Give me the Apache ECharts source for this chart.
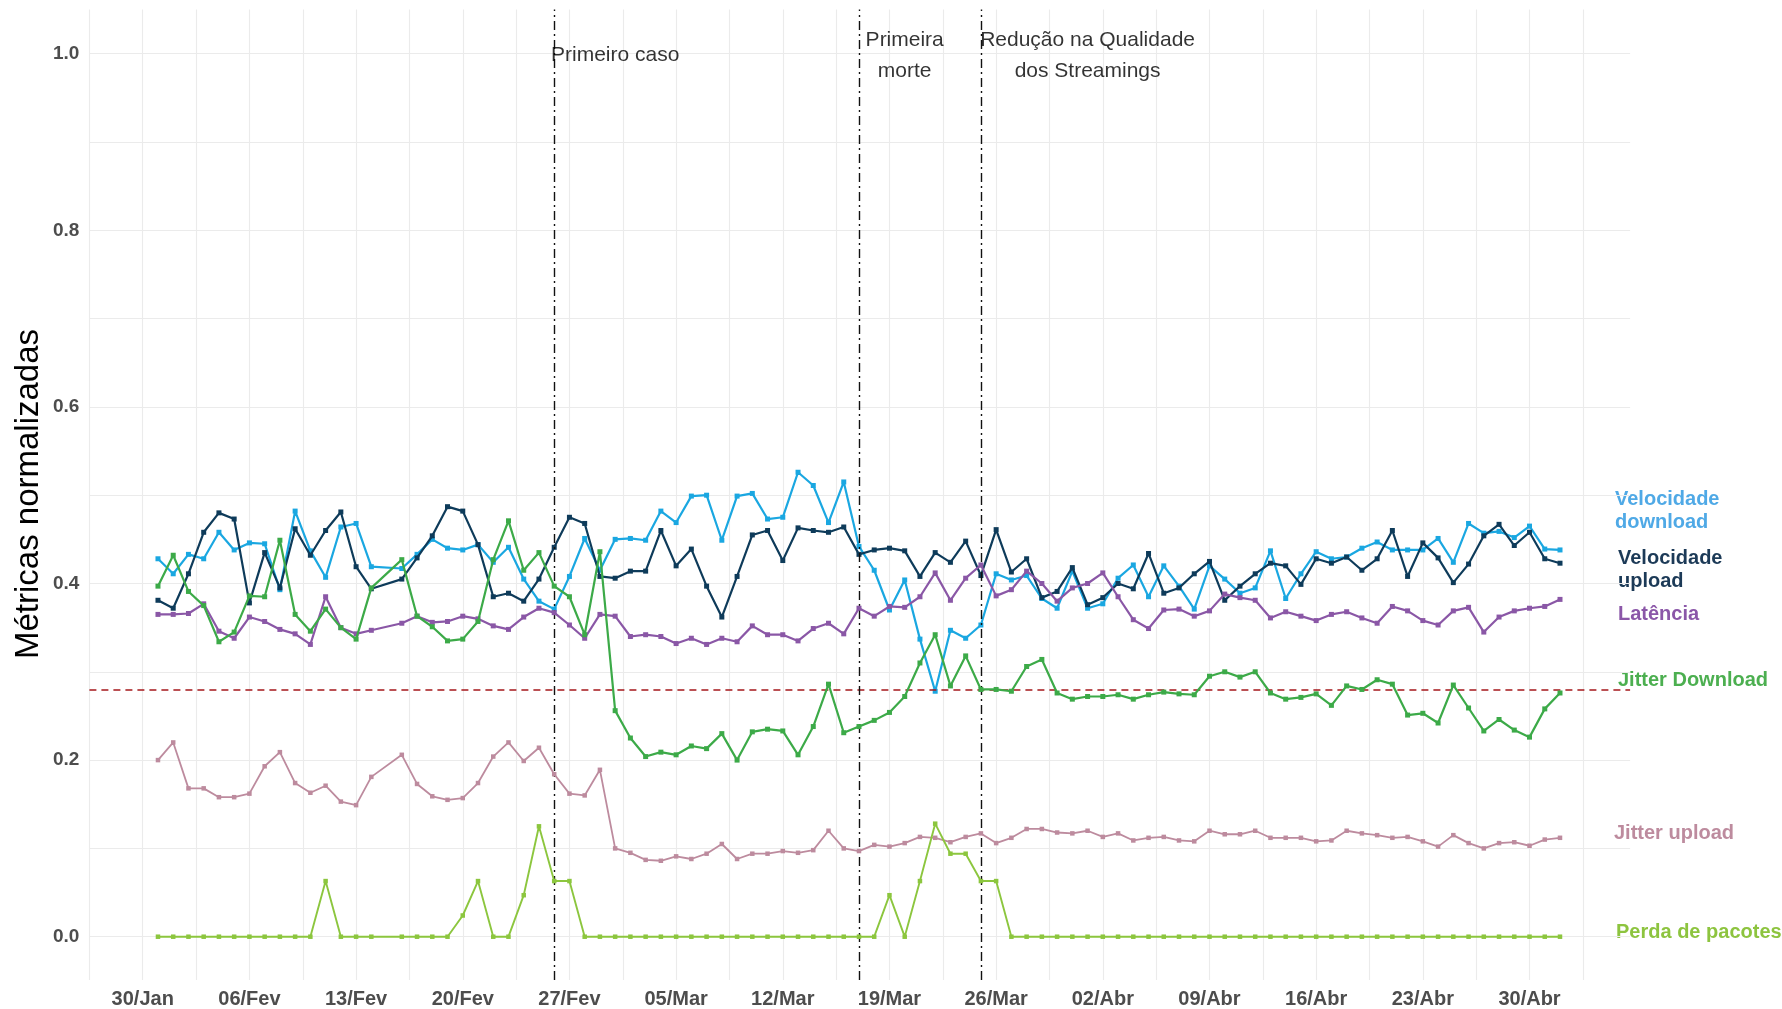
<!DOCTYPE html>
<html><head><meta charset="utf-8">
<script src="https://cdn.jsdelivr.net/npm/echarts@6/dist/echarts.min.js"></script>
<style>html,body{margin:0;padding:0;background:#fff}#c{width:1782px;height:1009px}</style>
</head><body><div id="c"></div><script>
// ---- data ----
const dates = [
 '2020-01-31',
 '2020-02-01','2020-02-02','2020-02-03','2020-02-04','2020-02-05','2020-02-06','2020-02-07','2020-02-08','2020-02-09','2020-02-10','2020-02-11','2020-02-12','2020-02-13','2020-02-14',
 '2020-02-16','2020-02-17','2020-02-18','2020-02-19','2020-02-20','2020-02-21','2020-02-22','2020-02-23','2020-02-24','2020-02-25','2020-02-26','2020-02-27','2020-02-28','2020-02-29',
 '2020-03-01','2020-03-02','2020-03-03','2020-03-04','2020-03-05','2020-03-06','2020-03-07','2020-03-08','2020-03-09','2020-03-10',
 '2020-03-11','2020-03-12','2020-03-13','2020-03-14','2020-03-15','2020-03-16','2020-03-17','2020-03-18','2020-03-19','2020-03-20',
 '2020-03-21','2020-03-22','2020-03-23','2020-03-24','2020-03-25','2020-03-26','2020-03-27','2020-03-28','2020-03-29','2020-03-30','2020-03-31',
 '2020-04-01','2020-04-02','2020-04-03','2020-04-04','2020-04-05','2020-04-06','2020-04-07','2020-04-08','2020-04-09','2020-04-10',
 '2020-04-11','2020-04-12','2020-04-13','2020-04-14','2020-04-15','2020-04-16','2020-04-17','2020-04-18','2020-04-19','2020-04-20',
 '2020-04-21','2020-04-22','2020-04-23','2020-04-24','2020-04-25','2020-04-26','2020-04-27','2020-04-28','2020-04-29','2020-04-30',
 '2020-05-01','2020-05-02'
];
const velocidadeDownload = [
 .428,.411,.433,.428,.458,.438,.446,.445,.393,.482,.437,.407,.464,.468,.419,
 .417,.433,.450,.440,.438,.444,.424,.441,.405,.380,.371,.408,.451,.415,
 .450,.451,.449,.482,.469,.499,.500,.449,.499,.502,.473,.475,.526,.511,.469,.515,.442,.415,.370,.404,
 .337,.278,.347,.338,.353,.411,.404,.409,.383,.372,.414,
 .372,.377,.406,.421,.385,.420,.397,.371,.420,.405,.389,.395,.437,.383,.411,.436,.428,.430,.440,.447,
 .438,.438,.438,.451,.424,.468,.457,.459,.452,.465,
 .439,.438
];
const velocidadeUpload = [
 .381,.372,.411,.458,.480,.473,.378,.435,.395,.462,.432,.460,.481,.419,.394,
 .405,.429,.454,.487,.482,.444,.385,.389,.380,.405,.441,.475,.468,.408,
 .406,.414,.414,.460,.420,.439,.397,.362,.408,.455,.460,.426,.463,.460,.458,.464,.433,.438,.440,.437,
 .408,.435,.424,.448,.409,.461,.413,.428,.384,.391,.418,
 .376,.384,.400,.394,.434,.389,.395,.411,.425,.381,.397,.411,.423,.420,.399,.428,.423,.430,.415,.428,
 .460,.408,.446,.429,.401,.422,.454,.467,.443,.458,
 .428,.423
];
const latencia = [
 .365,.365,.366,.377,.346,.338,.362,.357,.348,.343,.331,.385,.350,.343,.347,
 .355,.363,.356,.357,.363,.360,.352,.348,.362,.372,.367,.353,.338,.365,
 .363,.340,.342,.340,.332,.338,.331,.338,.334,.352,.342,.342,.335,.349,.355,.343,.372,.363,.374,.373,
 .385,.412,.381,.406,.421,.386,.393,.414,.400,.380,.395,
 .400,.412,.385,.359,.349,.370,.371,.363,.369,.388,.384,.381,.361,.368,.363,.358,.365,.368,.361,.355,
 .374,.369,.358,.353,.369,.373,.345,.362,.369,.372,
 .374,.382
];
const jitterDownload = [
 .397,.432,.391,.375,.334,.345,.386,.385,.449,.365,.346,.371,.350,.337,.395,
 .427,.363,.351,.335,.337,.357,.427,.471,.415,.435,.397,.385,.342,.436,
 .256,.225,.204,.209,.206,.216,.213,.230,.200,.232,.235,.233,.206,.238,.286,.231,.238,.245,.254,.272,
 .310,.342,.284,.318,.280,.280,.278,.306,.314,.276,.269,
 .272,.272,.274,.269,.274,.277,.275,.274,.295,.300,.294,.300,.276,.269,.271,.275,.262,.284,.280,.291,
 .286,.251,.253,.242,.285,.259,.233,.246,.234,.226,
 .258,.276
];
const jitterUpload = [
 .200,.220,.168,.168,.158,.158,.162,.193,.209,.174,.163,.171,.153,.149,.181,
 .206,.173,.159,.155,.157,.174,.204,.220,.199,.214,.184,.162,.160,.189,
 .100,.095,.087,.086,.091,.088,.094,.105,.088,.094,.094,.097,.095,.098,.120,.100,.097,.104,.102,.106,
 .113,.112,.107,.113,.117,.106,.112,.122,.122,.118,.117,
 .120,.113,.117,.109,.112,.113,.109,.108,.120,.116,.116,.120,.112,.112,.112,.108,.109,.120,.117,.115,
 .112,.113,.108,.102,.115,.106,.100,.106,.107,.103,
 .110,.112
];
const perdaPacotes = [
 0,0,0,0,0,0,0,0,0,0,0,.063,0,0,0,
 0,0,0,0,.024,.063,0,0,.047,.125,.063,.063,0,0,
 0,0,0,0,0,0,0,0,0,0,0,0,0,0,0,0,0,0,.047,0,
 .063,.128,.094,.094,.063,.063,0,0,0,0,0,
 0,0,0,0,0,0,0,0,0,0,0,0,0,0,0,0,0,0,0,0,
 0,0,0,0,0,0,0,0,0,0,
 0,0
];
const seriesNames = ['Velocidade download','Velocidade upload','Latência','Jitter Download','Jitter upload','Perda de pacotes'];
const xOrigin = '2020-01-30';
const xTickLabels = ['30/Jan','06/Fev','13/Fev','20/Fev','27/Fev','05/Mar','12/Mar','19/Mar','26/Mar','02/Abr','09/Abr','16/Abr','23/Abr','30/Abr'];
const yTickLabels = ['0.0','0.2','0.4','0.6','0.8','1.0'];
const referenceLevel = 0.277;
const eventDates = ['2020-02-26','2020-03-17','2020-03-25'];
const annotationTexts = ['Primeiro caso','Primeira\nmorte','Redução na Qualidade\ndos Streamings'];
const annotationDates = ['2020-03-01','2020-03-20','2020-04-01'];
const annotationLevel = 1.0;

// ---- helpers ----
const DAY = 86400000;
const dayOf = s => Math.round((Date.parse(s) - Date.parse(xOrigin)) / DAY);
const FONT = '"Liberation Sans", Arial, Helvetica, sans-serif';

const colors = ['#1aa7e1','#0e3b5a','#8a57a6','#3caa48','#bd8b9e','#8cc63e'];
const labelColors = ['#4fa9e6','#1c3a57','#8b57a8','#4caf50','#bd8b9e','#8dc43f'];
const allValues = [velocidadeDownload, velocidadeUpload, latencia, jitterDownload, jitterUpload, perdaPacotes];
const widths = [2.2,2.2,2.2,2.2,1.8,1.9];
const symSizes = [5,5,5,5,4.5,4.5];

const X_MIN = -3.5, X_MAX = 97.6;
const gridLeft = 89.4, gridWidth = 1540.7;

const dataSeries = allValues.map((vals, k) => ({
  name: seriesNames[k],
  type: 'line',
  xAxisIndex: 0, yAxisIndex: 0,
  data: dates.map((d, i) => [dayOf(d), vals[i]]),
  symbol: 'rect', symbolSize: symSizes[k], showSymbol: true,
  lineStyle: { color: colors[k], width: widths[k] },
  itemStyle: { color: colors[k] },
  clip: false, silent: true, z: 3 + k
}));
dataSeries[0].markLine = {
  silent: true, symbol: ['none','none'], label: { show: false },
  lineStyle: { color: '#a5171b', width: 1.6, type: [7, 5] },
  data: [{ yAxis: referenceLevel }]
};

const annotSeries = {
  type: 'scatter', xAxisIndex: 1, yAxisIndex: 1, silent: true,
  symbolSize: 1, itemStyle: { color: 'rgba(0,0,0,0)' },
  data: annotationTexts.map((t, i) => ({ value: [dayOf(annotationDates[i]), annotationLevel], name: t })),
  label: {
    show: true, position: 'inside', offset: [0, 2], formatter: p => p.name,
    color: '#000', fontSize: 21, lineHeight: 31, fontFamily: FONT, align: 'center'
  },
  markLine: {
    silent: true, symbol: ['none','none'], label: { show: false },
    lineStyle: { color: '#111', width: 1.4, type: [9, 4, 2, 4] },
    data: eventDates.map(d => ({ xAxis: dayOf(d) }))
  },
  z: 10
};

const rightLabels = [
  { k: 0, x: 1615, y: 511 },
  { k: 1, x: 1618, y: 570 },
  { k: 2, x: 1618, y: 614.7 },
  { k: 3, x: 1618, y: 680.3 },
  { k: 4, x: 1614, y: 833.7 },
  { k: 5, x: 1616, y: 932.7 }
];
const labelTexts = ['Velocidade\ndownload','Velocidade\nupload','Latência','Jitter Download','Jitter upload','Perda de pacotes'];

const chart = echarts.init(document.getElementById('c'), null, { renderer: 'canvas' });
chart.setOption({
  animation: false,
  backgroundColor: '#ffffff',
  textStyle: { fontFamily: FONT },
  grid: [
    { left: gridLeft, width: gridWidth, top: 53.7, height: 883 },
    { left: gridLeft, width: gridWidth, top: 9.55, height: 971.3 }
  ],
  xAxis: [
    { gridIndex: 0, type: 'value', min: X_MIN, max: X_MAX, show: false },
    { gridIndex: 1, type: 'value', min: X_MIN, max: X_MAX, interval: 3.5,
      axisLine: { show: false }, axisTick: { show: false },
      splitLine: { show: true, showMaxLine: false, lineStyle: { color: '#ebebeb', width: 1.1 } },
      axisLabel: {
        margin: 9, color: '#4d4d4d', fontWeight: 'bold', fontSize: 20, fontFamily: FONT,
        formatter: v => {
          const idx = Math.round(v / 7);
          if (Math.abs(v / 7 - idx) > 1e-6 || idx < 0 || idx >= xTickLabels.length) return '';
          return xTickLabels[idx];
        }
      }
    }
  ],
  yAxis: [
    { gridIndex: 0, type: 'value', min: 0, max: 1, interval: 0.1,
      axisLine: { show: false }, axisTick: { show: false },
      splitLine: { show: true, lineStyle: { color: '#ebebeb', width: 1.1 } },
      axisLabel: {
        margin: 10, color: '#4d4d4d', fontWeight: 'bold', fontSize: 19, fontFamily: FONT,
        formatter: v => {
          const idx = Math.round(v * 10);
          if (Math.abs(v * 10 - idx) > 1e-6 || idx % 2 !== 0) return '';
          return yTickLabels[idx / 2];
        }
      }
    },
    { gridIndex: 1, type: 'value', min: -0.05, max: 1.05, show: false }
  ],
  series: [...dataSeries, annotSeries],
  graphic: [
    { type: 'text', x: 29, y: 494, rotation: Math.PI / 2, silent: true,
      style: { text: 'Métricas normalizadas', fill: '#000', font: '33px ' + FONT, align: 'center', verticalAlign: 'middle' } },
    ...rightLabels.map(r => ({
      type: 'text', x: r.x, y: r.y, silent: true,
      style: { text: labelTexts[r.k], fill: labelColors[r.k], font: 'bold 20px ' + FONT,
               lineHeight: 23.4, align: 'left', verticalAlign: 'middle' }
    }))
  ]
});
</script></body></html>
